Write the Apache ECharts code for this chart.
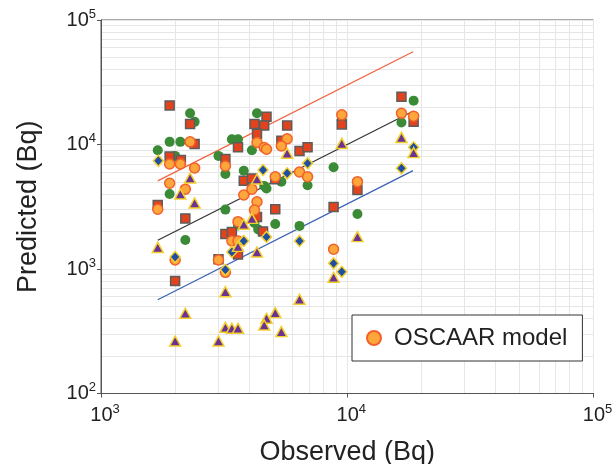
<!DOCTYPE html>
<html>
<head>
<meta charset="utf-8">
<script src="https://cdn.jsdelivr.net/npm/echarts@6/dist/echarts.min.js"></script>
<style>
  html, body { margin: 0; padding: 0; background: #fff; }
  #chart1 { width: 613px; height: 464px; }
</style>
</head>
<body>
<div id="chart1"></div>
<script>
// observed / predicted pairs (Bq)
var greenPts = [
    [2300, 17800], [2400, 15200], [1900, 10500], [2100, 10500], [3400, 11000],
    [3600, 11000], [1700, 9000], [2000, 8100], [3000, 8100], [3200, 5800],
    [3800, 6150], [1900, 4000], [3200, 3000], [4300, 17800], [4100, 9000],
    [4600, 4650], [4700, 4430], [5400, 5030], [8800, 6560], [6900, 4700],
    [9500, 15700], [11000, 2770], [16600, 15000], [18600, 22500], [3600, 2240],
    [2200, 1710], [4200, 2340], [4350, 2080], [5100, 2300], [6400, 2220]
];
var redPts = [
    [1900, 20600], [2300, 14600], [2400, 10100], [3600, 9500], [1900, 8000],
    [2110, 7500], [3200, 7650], [3800, 5120], [1700, 3270], [2200, 2550],
    [4700, 16700], [4200, 14600], [4600, 14200], [5700, 14200], [4300, 12200],
    [5400, 10700], [6400, 8870], [6900, 9500], [9500, 14500], [4100, 5330],
    [5100, 5250], [5100, 3020], [4300, 2620], [11000, 4310], [8800, 3150],
    [16600, 24200], [18600, 15200], [3200, 1910], [3400, 1980], [4550, 2000],
    [3600, 1310], [3000, 1200], [2000, 800]
];
var orangePts = [
    [2300, 10500], [1900, 6970], [2100, 6970], [2400, 6470], [3200, 6720],
    [1900, 4880], [2200, 4380], [3800, 3930], [1700, 3020], [4300, 10400],
    [5700, 11100], [5400, 9730], [4600, 9460], [4700, 9150], [6400, 6010],
    [6900, 5510], [5100, 5510], [4100, 4380], [4300, 3470], [4200, 2980],
    [9500, 17300], [11000, 5030], [16600, 17800], [18600, 16900], [3600, 2400],
    [3400, 1680], [3600, 1680], [2000, 1180], [3000, 1180], [3200, 940],
    [8800, 1440]
];
var bluePts = [
    [1710, 7400], [4550, 6240], [5700, 5870], [6900, 7060], [18600, 9500],
    [16600, 6440], [3800, 1680], [3400, 1370], [3200, 985], [4700, 1810],
    [6400, 1680], [8800, 1110], [9500, 950], [2000, 1250]
];
var purplePts = [
    [2300, 5380], [2100, 4000], [2400, 3390], [5700, 8500], [9500, 10200],
    [4300, 5280], [4100, 2550], [3800, 2290], [1700, 1490], [3600, 1520],
    [4300, 1370], [3200, 657], [2200, 441], [3200, 340], [3400, 334],
    [3600, 334], [2000, 264], [3000, 264], [11000, 1820], [8800, 858],
    [6400, 571], [5100, 446], [4700, 402], [4600, 355], [5400, 314],
    [16600, 11400], [18600, 8600]
];

// factor-of-3 band and 1:1 line
var lineX = [1700, 18500];
var upperY = [5100, 55500];
var middleY = [1700, 18500];
var lowerY = [567, 6170];

var legendName = 'OSCAAR model';

// minor grid values
var minorX = [2000, 3000, 4000, 5000, 6000, 7000, 8000, 9000,
              20000, 30000, 40000, 50000, 60000, 70000, 80000, 90000];
var minorY = [200, 300, 400, 500, 600, 700, 800, 900,
              2000, 3000, 4000, 5000, 6000, 7000, 8000, 9000,
              20000, 30000, 40000, 50000, 60000, 70000, 80000, 90000];

function pairs(xs, ys) {
    var out = [];
    for (var i = 0; i < xs.length; i++) out.push([xs[i], ys[i]]);
    return out;
}

function powLabel(v) {
    var e = Math.round(Math.log(v) / Math.LN10);
    return '{b|10}{s|' + e + '}';
}

var gridColor = '#e6e6e6';
var axisColor = '#555';
var fontFam = '"Liberation Sans", Arial, Helvetica, sans-serif';

var minorLines = [];
minorX.forEach(function (v) { minorLines.push({ xAxis: v }); });
minorY.forEach(function (v) { minorLines.push({ yAxis: v }); });

var yellowEdge = '#f3cf2c';

var chart = echarts.init(document.getElementById('chart1'));

var option = {
    animation: false,
    textStyle: { fontFamily: fontFam },
    grid: {
        left: 101, top: 20, right: 19.5, bottom: 70.5,
        outerBoundsMode: 'none', containLabel: false,
        show: true, borderColor: axisColor, borderWidth: 1
    },
    legend: {
        data: [legendName],
        left: 352, top: 315,
        orient: 'vertical',
        itemWidth: 30, itemHeight: 14,
        padding: [11, 15, 11, 14],
        borderColor: '#333', borderWidth: 1,
        backgroundColor: '#fff',
        textStyle: { fontSize: 24, color: '#222', fontFamily: fontFam }
    },
    xAxis: {
        type: 'log', logBase: 10, min: 1000, max: 100000, splitNumber: 2,
        name: 'Observed (Bq)', nameLocation: 'middle', nameGap: 46,
        nameTextStyle: { fontSize: 27, color: '#222', fontFamily: fontFam },
        axisLine: { lineStyle: { color: axisColor } },
        axisTick: { show: true, length: 4, lineStyle: { color: axisColor } },
        axisLabel: {
            margin: 9, color: '#222', formatter: powLabel,
            rich: {
                b: { fontSize: 20, color: '#222', padding: [0, 0, 0, 8], fontFamily: fontFam },
                s: { fontSize: 13, color: '#222', padding: [0, 0, 12, 0], fontFamily: fontFam }
            }
        },
        splitLine: { show: true, lineStyle: { color: gridColor } }
    },
    yAxis: {
        type: 'log', logBase: 10, min: 100, max: 100000, splitNumber: 3,
        name: 'Predicted (Bq)', nameLocation: 'middle', nameGap: 59,
        nameTextStyle: { fontSize: 27, color: '#222', fontFamily: fontFam },
        axisLine: { lineStyle: { color: axisColor } },
        axisTick: { show: true, length: 4, lineStyle: { color: axisColor } },
        axisLabel: {
            margin: 5, color: '#222', formatter: powLabel,
            rich: {
                b: { fontSize: 20, color: '#222', fontFamily: fontFam },
                s: { fontSize: 13, color: '#222', padding: [0, 0, 12, 0], fontFamily: fontFam }
            }
        },
        splitLine: { show: true, lineStyle: { color: gridColor } }
    },
    series: [
        {
            name: 'minorGrid', type: 'scatter', data: [], z: 0, silent: true,
            markLine: {
                z: 0,
                silent: true, symbol: ['none', 'none'], label: { show: false },
                lineStyle: { color: gridColor, width: 1, type: 'solid' },
                emphasis: { disabled: true },
                data: minorLines
            }
        },
        {
            name: 'upper', type: 'line', data: pairs(lineX, upperY), showSymbol: false,
            lineStyle: { color: '#f2623e', width: 1.2 }, z: 1, silent: true
        },
        {
            name: 'middle', type: 'line', data: pairs(lineX, middleY), showSymbol: false,
            lineStyle: { color: '#333', width: 1.2 }, z: 1, silent: true
        },
        {
            name: 'lower', type: 'line', data: pairs(lineX, lowerY), showSymbol: false,
            lineStyle: { color: '#3a5fb4', width: 1.2 }, z: 1, silent: true
        },
        {
            name: 'green', type: 'scatter', data: greenPts, symbol: 'circle', symbolSize: 10,
            itemStyle: { color: '#3a8a36', opacity: 1 }
        },
        {
            name: 'red', type: 'scatter', data: redPts, symbol: 'rect', symbolSize: 9,
            itemStyle: { color: '#e2431d', borderColor: '#5c5c5c', borderWidth: 1.5, opacity: 1 }
        },
        {
            name: legendName, type: 'scatter', data: orangePts, symbol: 'circle', symbolSize: 10,
            itemStyle: { color: '#fca63b', borderColor: '#f2612b', borderWidth: 1.5, opacity: 1 }
        },
        {
            name: 'blue', type: 'scatter', data: bluePts, symbol: 'diamond', symbolSize: [10, 11],
            itemStyle: { color: '#1e4fa5', borderColor: yellowEdge, borderWidth: 1.5, opacity: 1 }
        },
        {
            name: 'purple', type: 'scatter', data: purplePts, symbol: 'triangle', symbolSize: [11, 10],
            itemStyle: { color: '#6a3393', borderColor: yellowEdge, borderWidth: 1.5, opacity: 1 }
        }
    ]
};

chart.setOption(option);
</script>
</body>
</html>
